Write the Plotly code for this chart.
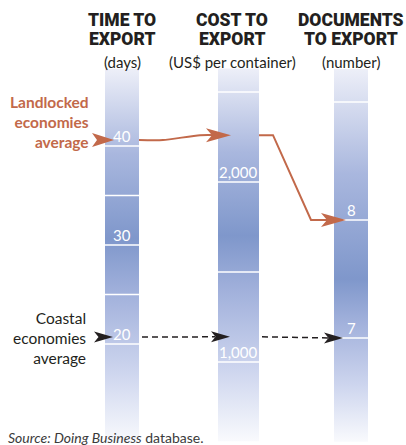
import plotly.graph_objects as go

# ---------------- data ----------------
metric_titles = [["TIME TO", "EXPORT"], ["COST TO", "EXPORT"], ["DOCUMENTS", "TO EXPORT"]]
metric_units = ["(days)", "(US$ per container)", "(number)"]
landlocked = [40.6, 2260, 8.0]
coastal = [20.7, 1140, 7.0]
grid_values = [[20, 25, 30, 35, 40], [1000, 1500, 2000, 2500], [7, 8, 9]]
label_values = [[20, 30, 40], [1000, 2000], [7, 8]]
label_texts = [["20", "30", "40"], ["1,000", "2,000"], ["7", "8"]]
bar_extent = [[10.0, 47.8], [560, 2630], [6.12, 9.28]]
group_names = ["Landlocked<br>economies<br>average", "Coastal<br>economies<br>average"]
source_text = "<i>Source: Doing Business</i> database."

# ---------------- style / layout ----------------
W, H = 406, 445
axis_ranges = [[9.8, 54.75], [539, 3011], [6.093, 9.864]]
yrefs = ["y", "y2", "y3"]
bar_left = [105, 218, 334]
bar_right = [139, 259, 368]
header_x = [122, 232, 351]
ORANGE = "#c2694a"
HEAD_FONT = "Roboto, Liberation Sans, sans-serif"
BODY_FONT = "Lato, Open Sans, sans-serif"


def conv(v, i, j):
    """express value v of scale i in the units of scale j (all scales share the plot height)"""
    a0, a1 = axis_ranges[i]
    b0, b1 = axis_ranges[j]
    f = (v - a0) / (a1 - a0)
    return b0 + f * (b1 - b0)


def paper_y(px):
    return 1 - px / H


fig = go.Figure()
shapes = []
annotations = []

# gradient bars
for i in range(3):
    lo, hi = bar_extent[i]
    mid = (landlocked[i] + coastal[i]) / 2
    m = (mid - lo) / (hi - lo)
    cs = [
        [0.0, "#f9fafd"],
        [m * 0.35, "#cdd5ee"],
        [m * 0.72, "#a3b2dc"],
        [m, "#7f97cb"],
        [m + (1 - m) * 0.5, "#a9b7de"],
        [1.0, "#edeff8"],
    ]
    fig.add_trace(go.Scatter(
        x=[bar_left[i], bar_right[i], bar_right[i], bar_left[i], bar_left[i]],
        y=[lo, lo, hi, hi, lo],
        yaxis=yrefs[i], mode="lines", line=dict(width=0),
        fill="toself", fillgradient=dict(type="vertical", colorscale=cs),
        hoverinfo="skip", showlegend=False,
    ))
    # white grid lines
    for v in grid_values[i]:
        shapes.append(dict(type="line", xref="x", yref=yrefs[i],
                           x0=bar_left[i], x1=bar_right[i], y0=v, y1=v,
                           line=dict(color="white", width=1.5), layer="above"))
    # value labels
    for v, t in zip(label_values[i], label_texts[i]):
        annotations.append(dict(x=(bar_left[i] + bar_right[i]) / 2, y=v, xref="x", yref=yrefs[i],
                                text=t, showarrow=False, xanchor="center", yanchor="bottom",
                                yshift=-1, font=dict(family=BODY_FONT, size=15, color="white")))
    # headers
    for k, line in enumerate(metric_titles[i]):
        annotations.append(dict(x=header_x[i], y=paper_y(20 + 19 * k), xref="x", yref="paper",
                                text=line, showarrow=False, xanchor="center",
                                yanchor="middle",
                                font=dict(family=HEAD_FONT, size=17.5, weight=900, color="#231f20")))
    annotations.append(dict(x=header_x[i], y=paper_y(62), xref="x", yref="paper",
                            text=metric_units[i], showarrow=False, xanchor="center",
                            yanchor="middle", font=dict(family=BODY_FONT, size=15, color="#231f20")))


def arrowhead(x_tip, y, yref, color, L, Hh, N):
    return dict(type="path", xref="x", yref=yref, xsizemode="pixel", ysizemode="pixel",
                xanchor=x_tip, yanchor=y,
                path="M0,0 L%s,%s L%s,0 L%s,%s Z" % (-L, Hh, -L + N, -L, -Hh),
                fillcolor=color, line=dict(width=0), layer="above")


# landlocked connectors
fig.add_trace(go.Scatter(
    x=[bar_right[0], 163, 200, 222],
    y=[conv(landlocked[0], 0, 1), conv(landlocked[0], 0, 1), landlocked[1], landlocked[1]],
    yaxis="y2", mode="lines", line=dict(color=ORANGE, width=2, shape="spline", smoothing=0.6),
    hoverinfo="skip", showlegend=False))
fig.add_trace(go.Scatter(
    x=[bar_right[1], 273, 311, 336],
    y=[conv(landlocked[1], 1, 2), conv(landlocked[1], 1, 2), landlocked[2], landlocked[2]],
    yaxis="y3", mode="lines", line=dict(color=ORANGE, width=2),
    hoverinfo="skip", showlegend=False))
# coastal connectors
fig.add_trace(go.Scatter(
    x=[bar_right[0] + 3, 215], y=[conv(coastal[0], 0, 1), coastal[1]],
    yaxis="y2", mode="lines", line=dict(color="#231f20", width=1.5, dash="6px,4px"),
    hoverinfo="skip", showlegend=False))
fig.add_trace(go.Scatter(
    x=[bar_right[1] + 3, 330], y=[conv(coastal[1], 1, 2), coastal[2]],
    yaxis="y3", mode="lines", line=dict(color="#231f20", width=1.5, dash="6px,4px"),
    hoverinfo="skip", showlegend=False))

# arrowheads
shapes.append(arrowhead(bar_left[0] + 9, landlocked[0], "y", ORANGE, 22, 7, 5))
shapes.append(arrowhead(bar_left[1] + 13, landlocked[1], "y2", ORANGE, 25, 7, 6))
shapes.append(arrowhead(bar_left[2] + 12, landlocked[2], "y3", ORANGE, 25, 7, 6))
shapes.append(arrowhead(bar_left[0] + 8, coastal[0], "y", "#231f20", 19, 5.5, 4.5))
shapes.append(arrowhead(bar_left[1] + 12, coastal[1], "y2", "#231f20", 19, 5.5, 4.5))
shapes.append(arrowhead(bar_left[2] + 9, coastal[2], "y3", "#231f20", 19, 5.5, 4.5))

# group labels
annotations.append(dict(x=91, y=landlocked[0], xref="x", yref="y", text="<b>%s</b>" % group_names[0],
                        showarrow=False, xanchor="right", yanchor="middle", align="right", yshift=18,
                        font=dict(family=BODY_FONT, size=15.5, color=ORANGE)))
annotations.append(dict(x=88, y=coastal[0], xref="x", yref="y", text=group_names[1],
                        showarrow=False, xanchor="right", yanchor="middle", align="right", yshift=-1,
                        font=dict(family=BODY_FONT, size=15.5, color="#231f20")))
# source
annotations.append(dict(x=6, y=paper_y(437), xref="x", yref="paper", text=source_text,
                        showarrow=False, xanchor="left", yanchor="middle",
                        font=dict(family=BODY_FONT, size=14, color="#3a3a3a")))

fig.update_layout(
    width=W, height=H, margin=dict(l=0, r=0, t=0, b=0),
    paper_bgcolor="white", plot_bgcolor="white", showlegend=False,
    xaxis=dict(range=[0, W], visible=False, fixedrange=True),
    yaxis=dict(range=axis_ranges[0], visible=False, fixedrange=True),
    yaxis2=dict(range=axis_ranges[1], visible=False, overlaying="y", fixedrange=True),
    yaxis3=dict(range=axis_ranges[2], visible=False, overlaying="y", fixedrange=True),
    shapes=shapes, annotations=annotations,
)
fig.write_html("out.html", config={"displayModeBar": False},
               post_script="document.body.style.margin='0px';document.body.style.overflow='hidden';")
